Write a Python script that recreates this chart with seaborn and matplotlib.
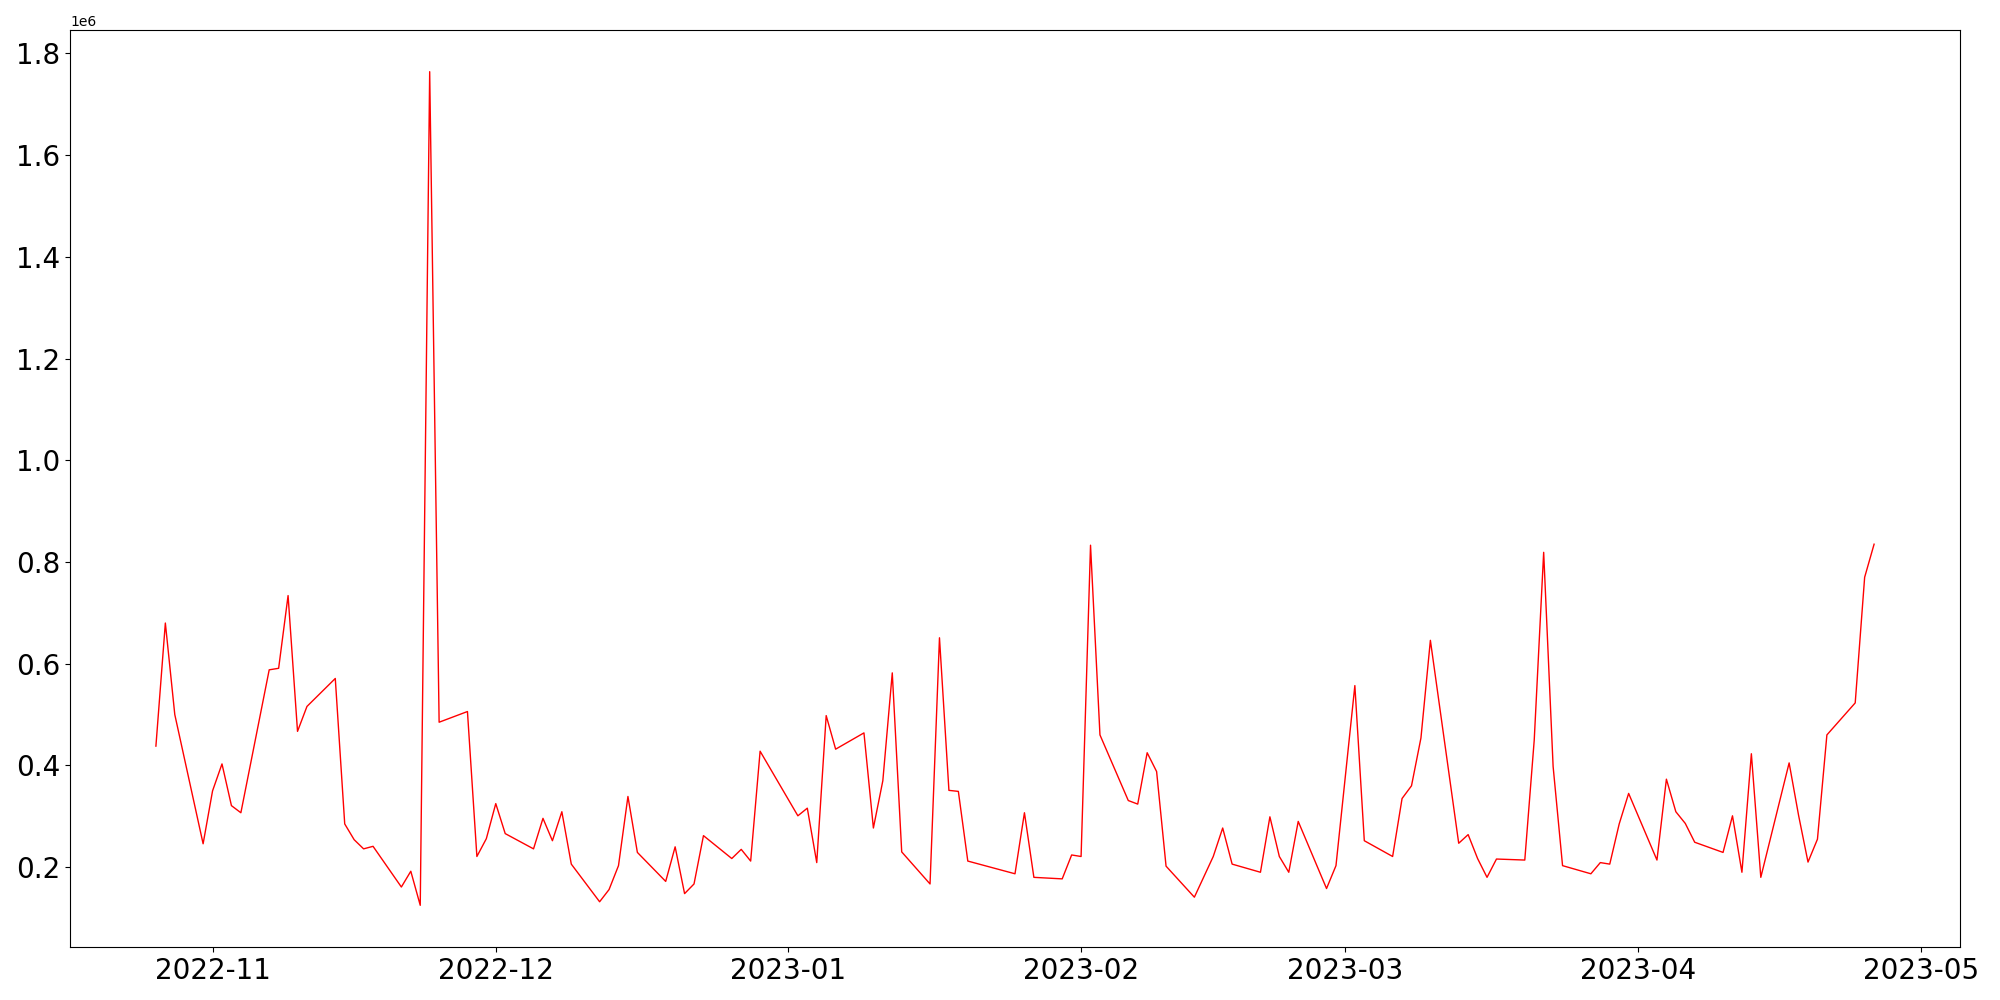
import numpy as np
import pandas as pd
import matplotlib
matplotlib.use('Agg')
import matplotlib.pyplot as plt
import matplotlib.dates as mdates
from matplotlib.ticker import MultipleLocator
import seaborn as sns

# Dagwaarden (handelsdagen)
dates = [
    '2022-10-26', '2022-10-27', '2022-10-28', '2022-10-31',
    '2022-11-01', '2022-11-02', '2022-11-03', '2022-11-04',
    '2022-11-07', '2022-11-08', '2022-11-09', '2022-11-10', '2022-11-11',
    '2022-11-14', '2022-11-15', '2022-11-16', '2022-11-17', '2022-11-18',
    '2022-11-21', '2022-11-22', '2022-11-23', '2022-11-24', '2022-11-25',
    '2022-11-28', '2022-11-29', '2022-11-30', '2022-12-01', '2022-12-02',
    '2022-12-05', '2022-12-06', '2022-12-07', '2022-12-08', '2022-12-09',
    '2022-12-12', '2022-12-13', '2022-12-14', '2022-12-15', '2022-12-16',
    '2022-12-19', '2022-12-20', '2022-12-21', '2022-12-22', '2022-12-23',
    '2022-12-26', '2022-12-27', '2022-12-28', '2022-12-29',
    '2023-01-02', '2023-01-03', '2023-01-04', '2023-01-05', '2023-01-06',
    '2023-01-09', '2023-01-10', '2023-01-11', '2023-01-12', '2023-01-13',
    '2023-01-16', '2023-01-17', '2023-01-18', '2023-01-19', '2023-01-20',
    '2023-01-25', '2023-01-26', '2023-01-27',
    '2023-01-30', '2023-01-31', '2023-02-01', '2023-02-02', '2023-02-03',
    '2023-02-06', '2023-02-07', '2023-02-08', '2023-02-09', '2023-02-10',
    '2023-02-13', '2023-02-15', '2023-02-16', '2023-02-17',
    '2023-02-20', '2023-02-21', '2023-02-22', '2023-02-23', '2023-02-24',
    '2023-02-27', '2023-02-28', '2023-03-02', '2023-03-03',
    '2023-03-06', '2023-03-07', '2023-03-08', '2023-03-09', '2023-03-10',
    '2023-03-13', '2023-03-14', '2023-03-15', '2023-03-16', '2023-03-17',
    '2023-03-20', '2023-03-21', '2023-03-22', '2023-03-23', '2023-03-24',
    '2023-03-27', '2023-03-28', '2023-03-29', '2023-03-30', '2023-03-31',
    '2023-04-03', '2023-04-04', '2023-04-05', '2023-04-06', '2023-04-07',
    '2023-04-10', '2023-04-11', '2023-04-12', '2023-04-13', '2023-04-14',
    '2023-04-17', '2023-04-18', '2023-04-19', '2023-04-20', '2023-04-21',
    '2023-04-24', '2023-04-25', '2023-04-26',
]

values = [
    438000, 680000, 500000, 246000,
    350000, 403000, 321000, 307000,
    588000, 591000, 734000, 467000, 516000,
    571000, 285000, 254000, 236000, 241000,
    161000, 192000, 125000, 1764000, 485000,
    506000, 221000, 256000, 325000, 266000,
    236000, 296000, 252000, 309000, 206000,
    132000, 156000, 203000, 339000, 229000,
    172000, 240000, 148000, 167000, 262000,
    217000, 235000, 212000, 428000,
    301000, 316000, 209000, 498000, 432000,
    464000, 277000, 370000, 582000, 230000,
    167000, 651000, 351000, 349000, 212000,
    187000, 307000, 180000,
    177000, 224000, 221000, 833000, 460000,
    331000, 324000, 425000, 388000, 202000,
    141000, 221000, 277000, 206000,
    190000, 299000, 221000, 190000, 290000,
    158000, 203000, 557000, 252000,
    221000, 335000, 360000, 454000, 646000,
    247000, 264000, 217000, 180000, 216000,
    214000, 450000, 819000, 398000, 203000,
    187000, 209000, 206000, 285000, 345000,
    214000, 373000, 309000, 286000, 249000,
    229000, 301000, 190000, 423000, 180000,
    405000, 302000, 210000, 255000, 460000,
    523000, 770000, 835000,
]

df = pd.DataFrame({'date': pd.to_datetime(dates), 'value': values})

fig, ax = plt.subplots(figsize=(20, 10), dpi=100)
fig.subplots_adjust(left=0.035, right=0.98, bottom=0.053, top=0.97)

sns.lineplot(data=df, x='date', y='value', color='red', linewidth=1, ax=ax)

ax.xaxis.set_major_locator(mdates.MonthLocator())
ax.xaxis.set_major_formatter(mdates.DateFormatter('%Y-%m'))
ax.yaxis.set_major_locator(MultipleLocator(200000))
ax.tick_params(labelsize=20)
ax.set_xlabel('')
ax.set_ylabel('')

plt.savefig('out.png', dpi=100)
